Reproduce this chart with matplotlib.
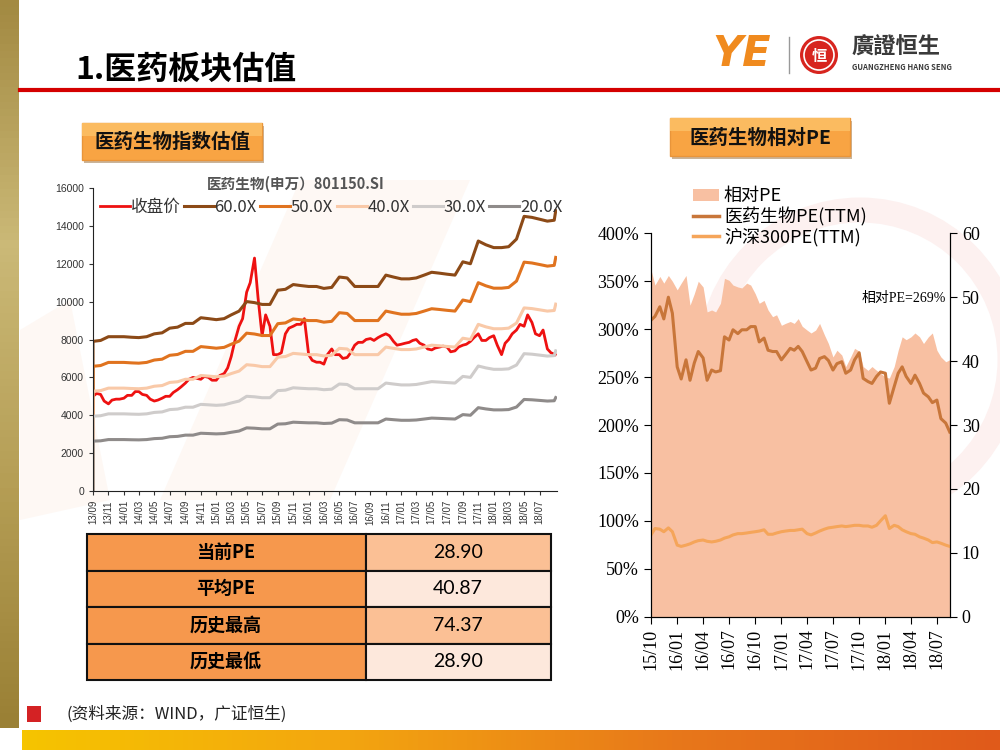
import matplotlib
matplotlib.use('Agg')
import matplotlib.pyplot as plt
import matplotlib.dates as mdates
from matplotlib.colors import LinearSegmentedColormap
from matplotlib.patches import Rectangle, Circle, Patch, Polygon
from matplotlib.lines import Line2D
import numpy as np
import pandas as pd

plt.rcParams['font.family'] = ['Noto Sans CJK SC', 'DejaVu Sans']

# ---- left chart: 医药生物(申万) close + PE bands ----
close_dates = pd.date_range('2013-09-01', periods=121, freq='SMS')
close = [5000, 5150, 5100, 4750, 4600, 4800, 4850, 4850, 4900, 5050,
         5050, 5250, 5250, 5100, 5050, 4850, 4750, 4800, 4900, 5000,
         5000, 5200, 5350, 5500, 5700, 5900, 6000, 5950, 5900, 6050,
         6000, 5850, 5850, 6100, 6200, 6500, 7100, 7900, 8700, 9100,
         10500, 11000, 12300, 10200, 8200, 9300, 8700, 7200, 7200, 7300,
         8300, 8600, 8700, 8800, 8800, 9100, 7200, 6900, 6800, 6800,
         6700, 7200, 7500, 7200, 7200, 7000, 7050, 7300, 7700, 7850,
         7850, 8000, 8050, 7950, 8100, 8200, 8300, 8200, 7900, 7700,
         7750, 7800, 7850, 7950, 8000, 7800, 7700, 7500, 7450, 7550,
         7600, 7650, 7600, 7350, 7400, 7600, 7700, 7750, 7900, 8100,
         8300, 7950, 7950, 8100, 8200, 7700, 7200, 7800, 8000, 8300,
         8500, 8800, 8700, 9300, 8900, 8300, 8200, 8500, 7500, 7300,
         7200]

# earnings per index point (band = multiple * eps)
eps_dates = ([pd.Timestamp('2013-09-01')]
             + list(pd.date_range('2013-09-01', periods=60, freq='MS'))
             + [pd.Timestamp('2018-08-28'), pd.Timestamp('2018-09-03')])
eps = [0,
       131.7, 132.5, 135.8, 135.8, 135.8, 135.3, 135.0, 135.8, 138.3, 139.2,
       143.3, 144.2, 147.5, 147.5, 152.5, 151.7, 150.8, 151.7, 155.0, 158.3,
       166.7, 165.8, 164.2, 164.2, 176.7, 177.5, 181.7, 180.8, 180.0, 180.0,
       178.3, 179.2, 188.3, 187.5, 180.0, 180.0, 180.0, 180.0, 190.0, 188.3,
       186.7, 186.7, 187.5, 190.0, 192.5, 191.7, 190.8, 190.0, 201.7, 200.0,
       220.0, 216.7, 214.2, 214.2, 215.0, 221.7, 241.7, 240.8, 239.2, 237.5,
       238.3, 246.7]
multiples = [60, 50, 40, 30, 20]
band_labels = ['60.0X', '50.0X', '40.0X', '30.0X', '20.0X']
band_colors = ['#8c4a17', '#e0731f', '#f9c9a8', '#cfcccb', '#8f8b8a']

# ---- right chart: 相对PE ----
rel_dates = pd.date_range('2015-10-01', periods=70, freq='SMS')
rel_pe = [362, 346, 355, 348, 356, 350, 341, 348, 356, 325,
          337, 350, 344, 318, 320, 318, 327, 353, 351, 346,
          344, 343, 348, 346, 337, 327, 330, 320, 313, 315,
          304, 306, 308, 306, 311, 303, 299, 296, 299, 306,
          294, 285, 271, 278, 273, 261, 271, 280, 277, 261,
          257, 261, 257, 254, 250, 249, 261, 278, 292, 289,
          292, 296, 292, 285, 292, 296, 278, 271, 266, 268]
med_pe = [46.4, 47.0, 48.5, 46.6, 50.0, 47.5, 39.1, 37.2, 40.2, 37.0,
          39.7, 41.5, 40.5, 37.0, 38.6, 38.3, 38.5, 43.8, 43.3, 44.9,
          44.3, 44.9, 44.9, 45.4, 45.4, 43.0, 43.6, 41.7, 41.5, 41.5,
          40.2, 41.0, 42.0, 41.7, 42.3, 41.5, 39.9, 38.6, 38.9, 40.4,
          40.7, 40.1, 38.6, 39.6, 39.9, 38.1, 38.6, 40.2, 41.3, 37.3,
          36.8, 36.5, 37.6, 38.3, 38.1, 33.4, 36.0, 38.1, 39.1, 37.6,
          36.5, 37.8, 36.5, 35.0, 34.4, 33.5, 33.9, 31.0, 30.3, 28.9]
hs300_pe = [12.8, 13.8, 13.7, 13.3, 13.9, 13.3, 11.2, 11.0, 11.2, 11.4,
            11.7, 11.9, 12.0, 11.8, 11.7, 11.8, 12.0, 12.3, 12.5, 12.8,
            13.0, 13.0, 13.1, 13.2, 13.3, 13.4, 13.6, 12.9, 12.9, 13.1,
            13.3, 13.4, 13.5, 13.5, 13.6, 13.7, 13.0, 12.8, 13.1, 13.4,
            13.7, 13.9, 14.0, 14.1, 14.2, 14.1, 14.2, 14.3, 14.3, 14.2,
            14.2, 14.0, 14.3, 15.0, 15.8, 13.8, 14.3, 14.1, 13.6, 13.3,
            13.0, 12.9, 12.5, 12.3, 12.0, 11.6, 11.7, 11.5, 11.2, 11.0]

table_names = ['当前PE', '平均PE', '历史最高', '历史最低']
table_values = ['28.90', '40.87', '74.37', '28.90']

fig = plt.figure(figsize=(10, 7.5), dpi=100)
fig.patch.set_facecolor('white')

# ---------- slide decoration (pixel coords) ----------
bg = fig.add_axes([0, 0, 1, 1], zorder=0)
bg.axis('off')

# faint watermark shapes
bg.add_patch(Polygon([[300, 180], [470, 180], [330, 500], [160, 500]], closed=True,
                     fc='#fef8f4', ec='none'))
bg.add_patch(Polygon([[20, 330], [70, 300], [110, 500], [20, 520]], closed=True,
                     fc='#fef8f4', ec='none'))
bg.add_patch(Circle((860, 360), 150, fc='none', ec='#fdf1f0', lw=18))

gold = LinearSegmentedColormap.from_list('gold', ['#a38a42', '#cbb977', '#b59e55', '#9a8035'])
bg.imshow(np.linspace(0, 1, 100).reshape(-1, 1), cmap=gold, extent=[0, 19, 728, 0], aspect='auto')
band = LinearSegmentedColormap.from_list('band', ['#f6c400', '#f3a510', '#e8781a', '#e05a1a'])
bg.imshow(np.linspace(0, 1, 200).reshape(1, -1), cmap=band, extent=[22, 1000, 750, 730], aspect='auto')
bg.set_xlim(0, 1000)
bg.set_ylim(750, 0)

bg.plot([20, 1000], [90, 90], color='#d40000', lw=3)
bg.text(75, 70, '1.医药板块估值', fontsize=23, fontweight='bold', va='center', ha='left')

# logo
bg.text(712, 54, 'YE', fontsize=30, fontweight='bold', fontstyle='italic', color='#f08a1e',
        va='center', ha='left', family=['DejaVu Sans'])
bg.plot([789, 789], [37, 73], color='#999999', lw=1)
bg.add_patch(Circle((819, 55), 19, fc='#d7251f', ec='none'))
bg.add_patch(Circle((819, 55), 15, fc='none', ec='white', lw=1.2))
bg.text(819, 56, '恒', fontsize=11, color='white', ha='center', va='center', fontweight='bold')
bg.text(852, 47, '廣證恒生', fontsize=16, fontweight='bold', color='#3a3a3a', va='center',
        family=['Noto Sans CJK TC'])
bg.text(852, 68, 'GUANGZHENG HANG SENG', fontsize=5.5, fontweight='bold', color='#3a3a3a',
        va='center')

# section boxes
for (x0, y0, w, h, label) in [(82, 123, 180, 37, '医药生物指数估值'),
                              (670, 118, 180, 38, '医药生物相对PE')]:
    bg.add_patch(Rectangle((x0 + 2, y0 + 3), w, h, fc='#c9b49a', ec='none'))
    bg.add_patch(Rectangle((x0, y0), w, h, fc='#f8a443', ec='#e9953a', lw=1))
    bg.add_patch(Rectangle((x0, y0), w, h * 0.35, fc='#fbbb60', ec='none'))
    bg.text(x0 + w / 2, y0 + h / 2 + 1, label, fontsize=14, fontweight='bold',
            ha='center', va='center', color='#111111')

# table
row_top = 534
row_h = 36.5
for i, (name, val) in enumerate(zip(table_names, table_values)):
    y = row_top + i * row_h
    bg.add_patch(Rectangle((87, y), 279, row_h, fc='#f6984d', ec='#111111', lw=1.5))
    bg.add_patch(Rectangle((366, y), 185, row_h, fc='#fbc095' if i % 2 == 0 else '#fde8dc',
                           ec='#111111', lw=1.5))
    bg.text(226, y + row_h / 2, name, fontsize=13, fontweight='bold', ha='center', va='center')
    bg.text(458, y + row_h / 2, val, fontsize=14, ha='center', va='center', family=['Lato'])

# footer
bg.add_patch(Rectangle((27, 706), 14, 16, fc='#d42224', ec='none'))
bg.text(66, 714, '(资料来源：WIND，广证恒生)', fontsize=12, ha='left', va='center',
        color='#222222', fontstyle='italic')

# left chart title
bg.text(296, 184, '医药生物(申万）801150.SI', fontsize=10.5, color='#555555',
        fontweight='bold', ha='center', va='center')

# ---------- left chart ----------
ax = fig.add_axes([0.093, 1 - 491 / 750, 0.464, (491 - 188) / 750], zorder=2)
ax.set_facecolor('none')
ax.plot(close_dates, close, color='#ee1111', lw=2, label='收盘价')
eps_arr = np.array(eps)
for m, lab, col in zip(multiples, band_labels, band_colors):
    ax.plot(eps_dates, eps_arr * m, color=col, lw=2.2, label=lab)
ax.set_ylim(0, 16000)
ax.set_yticks(range(0, 16001, 2000))
ax.set_xlim(pd.Timestamp('2013-09-01'), pd.Timestamp('2018-09-08'))
ax.set_xticks(pd.date_range('2013-09-01', '2018-07-01', freq='2MS'))
ax.xaxis.set_major_formatter(mdates.DateFormatter('%y/%m'))
for s in ['top', 'right']:
    ax.spines[s].set_visible(False)
ax.spines['left'].set_color('#222222')
ax.spines['bottom'].set_color('#222222')
ax.tick_params(axis='y', labelsize=7.5, colors='#333333', length=3, direction='out')
ax.tick_params(axis='x', labelsize=7, colors='#333333', length=3, rotation=90)
for t in ax.get_xticklabels() + ax.get_yticklabels():
    t.set_family(['Liberation Sans'])
ax.legend(loc='upper left', bbox_to_anchor=(0.0, 0.985), ncol=6, frameon=False,
          fontsize=12, handlelength=1.8, handletextpad=0.05, columnspacing=0.2,
          borderaxespad=0, labelcolor='#333333')

# ---------- right chart ----------
ax_r = fig.add_axes([0.651, 1 - 616.7 / 750, 0.299, (616.7 - 233.3) / 750], zorder=2)
ax_r.set_facecolor('none')
ax_r.fill_between(rel_dates, 0, rel_pe, color='#f8c0a2', lw=0)
ax_r.set_ylim(0, 400)
ax_r.set_yticks(range(0, 401, 50))
ax_r.set_yticklabels([f'{v}%' for v in range(0, 401, 50)])
ax_r.set_xlim(rel_dates[0], rel_dates[-1] + pd.Timedelta(days=1))
ax_r.xaxis.set_major_locator(mdates.MonthLocator(bymonth=[1, 4, 7, 10]))
ax_r.xaxis.set_major_formatter(mdates.DateFormatter('%y/%m'))
ax_r.spines['top'].set_visible(False)
ax_r.tick_params(axis='y', labelsize=13, length=5, direction='out')
ax_r.tick_params(axis='x', labelsize=13, length=5, rotation=90)
for t in ax_r.get_xticklabels() + ax_r.get_yticklabels():
    t.set_family(['Liberation Serif'])

ax_r2 = ax_r.twinx()
ax_r2.plot(rel_dates, med_pe, color='#c8763a', lw=2.2)
ax_r2.plot(rel_dates, hs300_pe, color='#f5a55a', lw=2.2)
ax_r2.set_ylim(0, 60)
ax_r2.set_yticks(range(0, 61, 10))
ax_r2.spines['top'].set_visible(False)
ax_r2.tick_params(axis='y', labelsize=13, length=5, direction='out')
for t in ax_r2.get_yticklabels():
    t.set_family(['Liberation Serif'])
ax_r2.text(0.985, (616.7 - 298) / 383.3, '相对PE=269%', transform=ax_r2.transAxes,
           ha='right', va='center', fontsize=10, family=['Liberation Serif', 'Noto Sans CJK SC'])

handles = [Patch(fc='#f8c0a2', ec='none'),
           Line2D([], [], color='#c8763a', lw=2.5),
           Line2D([], [], color='#f5a55a', lw=2.5)]
fig.legend(handles, ['相对PE', '医药生物PE(TTM)', '沪深300PE(TTM)'], loc='upper left',
           bbox_to_anchor=(0.686, 1 - 180 / 750), frameon=False, fontsize=13,
           handlelength=1.4, handletextpad=0.3, labelspacing=0.1, borderaxespad=0)

fig.savefig('out.png', dpi=100)
